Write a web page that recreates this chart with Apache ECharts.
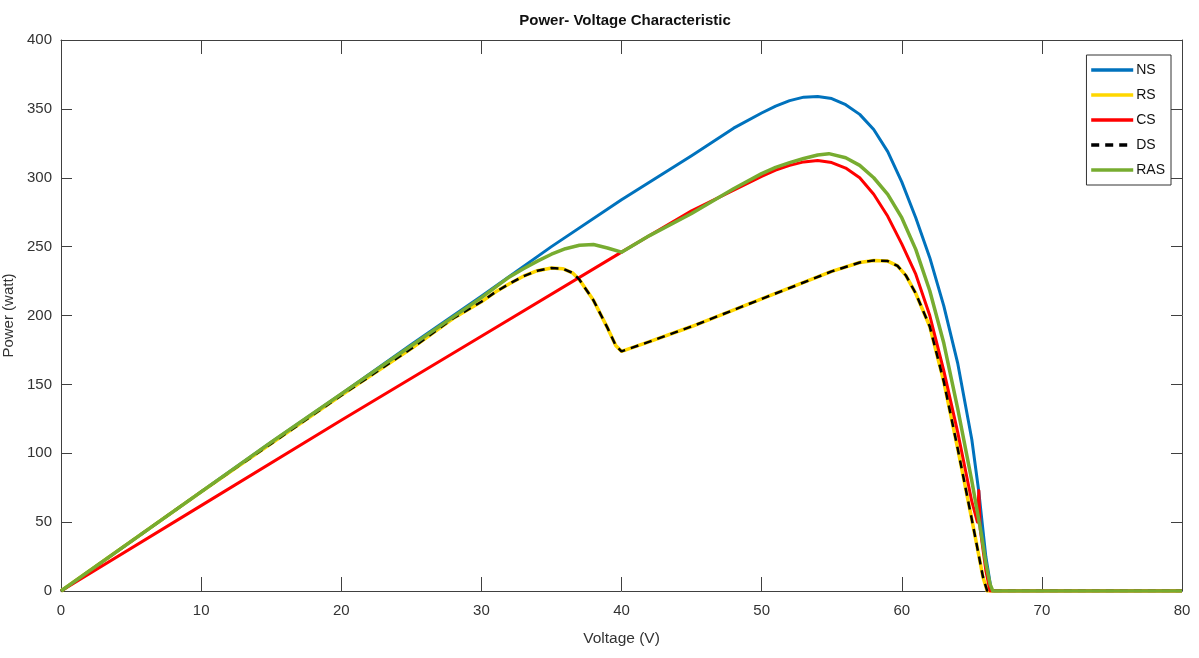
<!DOCTYPE html>
<html>
<head>
<meta charset="utf-8">
<script src="https://cdn.jsdelivr.net/npm/echarts@6/dist/echarts.min.js"></script>
<style>
html, body { margin: 0; padding: 0; background: #fff; }
#main { width: 1199px; height: 658px; }
</style>
</head>
<body>
<div id="main"></div>
<script>
// voltage (V), power (W) pairs
var ns = [[0,0],[5,36],[10,72],[15,108],[20,143],[25,179],[30,214],[35,250],[40,284],[45,316],[48,336],[50,347],[51,352],[52,356],[53,358.5],[54,359],[55,357.5],[56,353],[57,346],[58,335],[59,319],[60,297],[61,271],[62,242],[63,207],[64,165],[65,110],[65.5,72],[66,25],[66.4,0],[80,0]];
var rs = [[0,0],[5,36],[10,72],[15,107],[20,142],[25,176],[28,198],[30,210],[31,217],[32,223],[33,228.5],[34,232.5],[35,234.5],[35.8,234],[36.5,231],[37,226],[38,211],[39,191],[39.6,178],[40,174],[42,181],[45,192],[50,212],[55,232],[57,238.5],[58,240],[59,239.5],[59.7,236],[60.3,229],[61,216],[62,192],[63,152],[64,103],[65,52],[65.8,10],[66.1,0],[80,0]];
var cs = [[0,0],[10,62],[20,124],[30,185],[40,246],[45,276],[50,301],[51,305.5],[52,309],[53,311.5],[54,312.5],[55,311],[56,307],[57,300],[58,288],[59,272],[60,252],[61,230],[62,200],[63,160],[64,115],[65,65],[65.4,50],[65.5,73],[65.6,45],[66,15],[66.3,0],[80,0]];
var ds = rs;
var ras = [[0,0],[5,36],[10,72],[15,108],[20,143],[25,178],[30,213],[32,228],[33,234],[34,239.5],[35,244.5],[36,248.5],[37,251],[38,251.5],[39,249],[40,246],[42,258],[45,274],[48,292],[50,303],[51,307.5],[52,311],[53,314],[54,316.5],[54.8,317.5],[56,314.5],[57,309],[58,300],[59,288],[60,271],[61,248],[62,218],[63,180],[64,132],[65,80],[65.7,40],[66,20],[66.3,5],[66.5,0],[80,0]];

var font = "'Liberation Sans', Arial, sans-serif";
var axisCol = '#404040';

var chart = echarts.init(document.getElementById('main'));
var option = {
  animation: false,
  backgroundColor: '#fff',
  title: {
    text: 'Power- Voltage Characteristic',
    left: 620, top: 8, textAlign: 'center',
    textStyle: { fontFamily: font, fontSize: 15, fontWeight: 'bold', color: '#111' }
  },
  legend: {
    orient: 'vertical', right: 28, top: 55,
    itemWidth: 42, itemHeight: 14, itemGap: 11,
    padding: [8, 6, 8, 3],
    borderColor: '#333', borderWidth: 1, backgroundColor: '#fff',
    itemStyle: { opacity: 0 },
    lineStyle: { width: 3.5 },
    textStyle: { fontFamily: font, fontSize: 14, color: '#111', padding: [0, 0, 0, -2] },
    data: ['NS', 'RS', 'CS', 'DS', 'RAS']
  },
  grid: { left: 61, right: 17, top: 40, bottom: 67, outerBoundsMode: 'none', containLabel: false },
  xAxis: [{
    type: 'value', min: 0, max: 80, interval: 10,
    name: 'Voltage (V)', nameLocation: 'middle', nameGap: 40,
    nameTextStyle: { fontFamily: font, fontSize: 15.5, color: '#333' },
    axisLine: { onZero: false, lineStyle: { color: axisCol, width: 1 } },
    axisTick: { inside: true, length: 14, lineStyle: { color: axisCol } },
    axisLabel: { fontFamily: font, fontSize: 15, color: '#333', margin: 12 },
    splitLine: { show: false }
  }, {
    type: 'value', position: 'top', min: 0, max: 80, interval: 10,
    axisLine: { onZero: false, lineStyle: { color: axisCol, width: 1 } },
    axisTick: { inside: true, length: 14, lineStyle: { color: axisCol } },
    axisLabel: { show: false }, splitLine: { show: false }
  }],
  yAxis: [{
    type: 'value', min: 0, max: 400, interval: 50,
    name: 'Power (watt)', nameLocation: 'middle', nameGap: 37,
    nameTextStyle: { fontFamily: font, fontSize: 15, color: '#333' },
    axisLine: { show: true, onZero: false, lineStyle: { color: axisCol, width: 1 } },
    axisTick: { show: true, inside: true, length: 11, lineStyle: { color: axisCol } },
    axisLabel: { fontFamily: font, fontSize: 15, color: '#333', margin: 9 },
    splitLine: { show: false }
  }, {
    type: 'value', position: 'right', min: 0, max: 400, interval: 50,
    axisLine: { show: true, onZero: false, lineStyle: { color: axisCol, width: 1 } },
    axisTick: { show: true, inside: true, length: 11, lineStyle: { color: axisCol } },
    axisLabel: { show: false }, splitLine: { show: false }
  }],
  series: [
    { name: 'NS', type: 'line', data: ns, symbol: 'none', color: '#0072BD', lineStyle: { width: 3, color: '#0072BD', join: 'round' } },
    { name: 'RS', type: 'line', data: rs, symbol: 'none', color: '#FFD700', lineStyle: { width: 3.5, color: '#FFD700', join: 'round' } },
    { name: 'CS', type: 'line', data: cs, symbol: 'none', color: '#FF0000', lineStyle: { width: 3, color: '#FF0000', join: 'round' } },
    { name: 'DS', type: 'line', data: ds, symbol: 'none', color: '#000', lineStyle: { width: 2.5, color: '#000', type: [8, 6] } },
    { name: 'RAS', type: 'line', data: ras, symbol: 'none', color: '#77AC30', lineStyle: { width: 3.5, color: '#77AC30', join: 'round' } }
  ]
};
chart.setOption(option);
</script>
</body>
</html>
